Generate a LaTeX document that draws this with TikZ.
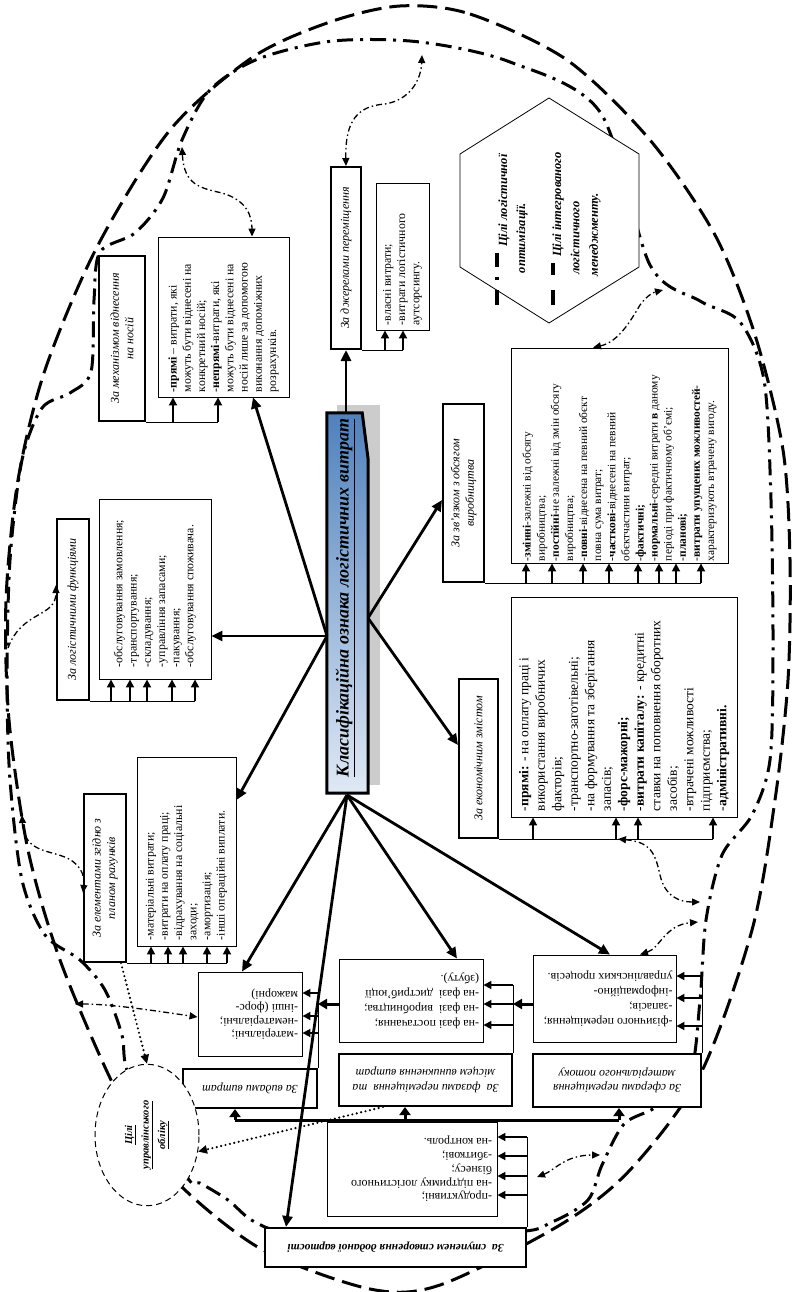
\documentclass[tikz,border=0pt]{standalone}
\usepackage{fontspec}
\setmainfont{Liberation Serif}
\usetikzlibrary{arrows.meta,calc,shapes.geometric}
\definecolor{mblue}{RGB}{79,129,189}
\definecolor{mlight}{RGB}{224,233,245}
\newcommand{\rotL}[2]{\rotatebox{90}{\parbox{#1}{\raggedright #2}}}
\newcommand{\rotC}[2]{\rotatebox{90}{\parbox{#1}{\centering #2}}}
\newcommand{\updL}[2]{\rotatebox{180}{\parbox{#1}{\raggedright #2}}}
\newcommand{\updC}[2]{\rotatebox{180}{\parbox{#1}{\centering #2}}}
\begin{document}
\begin{tikzpicture}[x=1pt,y=-1pt,
  hdr/.style={draw, line width=2pt, fill=white, inner sep=0pt, font=\fontsize{12}{14.5}\selectfont\itshape},
  lst/.style={draw, line width=0.9pt, fill=white, inner sep=0pt, font=\fontsize{11.8}{14.2}\selectfont},
  marr/.style={line width=2.8pt, -{Triangle[length=11pt,width=10pt]}},
  barr/.style={line width=1.8pt, -{Triangle[length=8pt,width=8pt]}},
  tarr/.style={line width=3pt, -{Triangle[length=9pt,width=10pt]}},
  bline/.style={line width=0.9pt},
  busline/.style={line width=3pt},
  busarr/.style={line width=3pt, -{Triangle[length=8pt,width=11pt]}},
  dd/.style={line width=1.3pt, dash pattern=on 6pt off 3pt on 1.5pt off 3pt, {Triangle[length=8pt,width=7pt]}-{Triangle[length=8pt,width=7pt]}},
  ddone/.style={line width=1.3pt, dash pattern=on 6pt off 3pt on 1.5pt off 3pt, -{Triangle[length=8pt,width=7pt]}},
  dotarr/.style={line width=2.4pt, dash pattern=on 0pt off 4.5pt, line cap=round, -{Triangle[length=9pt,width=8pt]}},
  loopD/.style={line width=3pt, dash pattern=on 16pt off 7pt on 3pt off 7pt},
  loopE/.style={line width=3pt, dash pattern=on 20pt off 8pt},
  hx/.style={inner sep=0pt, font=\fontsize{12.5}{15}\selectfont\bfseries\itshape}
]
\fill[white] (0,0) rectangle (792,1292);
\useasboundingbox (0,0) rectangle (792,1292);

% ---------- loops ----------
\draw[loopE] plot[smooth cycle, tension=0.5] coordinates {(400,6) (470,14) (567,60) (650,140) (715,235) (755,335) (783,450) (790,560) (788,680) (775,800) (752,930) (700,1075) (630,1170) (560,1225) (440,1285) (370,1289) (263,1250) (185,1190) (147,1140) (111,1080) (60,960) (28,850) (9,720) (6,600) (18,480) (45,370) (97,247) (170,130) (253,57) (330,22)};
\draw[loopD] plot[smooth cycle, tension=0.5] coordinates {(200,1183) (187,1177) (130,1078) (122,1035) (105,990) (80,960) (45,935) (22,880) (10,780) (7,680) (10,560) (22,460) (42,408) (70,393) (91,372) (94,300) (100,252) (135,233) (163,198) (182,140) (210,90) (258,59) (333,41) (420,42) (510,62) (600,112) (650,265) (700,301) (740,322) (764,380) (771,500) (773,650) (770,760) (752,815) (722,855) (706,920) (700,1000) (690,1075) (656,1107) (624,1124) (602,1165) (588,1200) (552,1222) (510,1232) (300,1232) (255,1222) (228,1200)};

% ---------- main node ----------
\node[inner sep=0pt, minimum width=41pt, minimum height=380pt] (main) at (347.5,603) {};
\fill[gray!40] ($(main.north west)+(10,-8)$) rectangle ($(main.south east)+(12,-8)$);
\path[draw=black, line width=3pt, top color=mblue, bottom color=mlight] (main.north west) -- ($(main.north east)+(-6,0)$) -- ($(main.north east)+(0,47)$) -- (main.south east) -- (main.south west) -- cycle;
\node[rotate=90, inner sep=0pt, font=\fontsize{18}{20}\selectfont\bfseries\itshape] (mainT) at (345,598) {\underline{Класифікаційна ознака логістичних витрат}};

% ---------- top-left groups ----------
\node[hdr, minimum width=46pt, minimum height=165pt] (mech) at (122,338.5) {\rotC{160pt}{За механізмом віднесення\\ на носій}};
\node[lst, minimum width=131pt, minimum height=160pt] (mechL) at (223.5,317) {\rotL{150pt}{\textbf{-прямі} – витрати, які\\ можуть бути віднесені на\\ конкретний носій;\\ -\textbf{непрямі}-витрати, які\\ можуть бути віднесені на\\ носій лише за допомогою\\ виконання допоміжних\\ розрахунків.}};

\node[hdr, minimum width=32pt, minimum height=181pt] (func) at (73,609.5) {\rotC{175pt}{За логістичними функціями}};
\node[lst, minimum width=112pt, minimum height=180pt] (funcL) at (155,589) {\rotL{156pt}{-обслуговування замовлення;\\ -транспортування;\\ -складування;\\ -управління запасами;\\ -пакування;\\ -обслуговування споживача.}};

\node[hdr, minimum width=42pt, minimum height=168pt] (elem) at (105,878) {\rotC{162pt}{За елементами згідно з\\ планом рахунків}};
\node[lst, minimum width=99pt, minimum height=189pt] (elemL) at (186.5,851.5) {\rotL{177pt}{-матеріальні витрати;\\ -витрати на оплату праці;\\ -відрахування на соціальні\\ заходи;\\ -амортизація;\\ -інші операційні виплати.}};

% ---------- top-right groups ----------
\node[hdr, minimum width=30pt, minimum height=182pt] (src) at (346,258) {\rotC{176pt}{За джерелами переміщення}};
\node[lst, minimum width=53pt, minimum height=147pt] (srcL) at (402.5,256.5) {\rotL{137pt}{-власні витрати;\\ -витрати логістичного\\ аутсорсингу.}};

\node[hdr, minimum width=41pt, minimum height=178pt] (vol) at (463.5,493) {\rotC{172pt}{За зв’язком з обсягом\\ виробництва}};
\node[lst, font=\fontsize{11.4}{14.1}\selectfont, minimum width=217pt, minimum height=215pt] (volL) at (619.5,455.5) {\rotL{211pt}{-\textbf{змінні}-залежні від обсягу\\ виробництва;\\ -\textbf{постійні}-не залежні від змін обсягу\\ виробництва;\\ -\textbf{повні}-віднесена на певний обєкт\\ повна сума витрат;\\ -\textbf{часткові}-віднесені на певний\\ обєктчастини витрат;\\ -\textbf{фактичні;}\\ -\textbf{нормальні}-середні витрати \textbf{в} даному\\ періоді при фактичному об’ємі;\\ -\textbf{планові;}\\ -\textbf{витрати упущених можливостей}-\\ характеризують втрачену вигоду.}};

\node[hdr, minimum width=39pt, minimum height=159pt] (econ) at (478.5,758.5) {\rotC{153pt}{За економічним змістом}};
\node[lst, font=\fontsize{13.5}{16.5}\selectfont, minimum width=226pt, minimum height=220pt] (econL) at (624,707) {\rotL{208pt}{-\textbf{прямі:} - на оплату праці і\\ використання виробничих\\ факторів;\\ -транспортно-заготівельні;\\ -на формування та зберігання\\ запасів;\\ -\textbf{форс-мажорні;}\\ -\textbf{витрати капіталу:} - кредитні\\ ставки на поповнення оборотних\\ засобів;\\ -втрачені можливості\\ підприємства;\\ -\textbf{адміністративні.}}};

% ---------- bottom groups ----------
\node[hdr, minimum width=134pt, minimum height=39pt] (kindH) at (250,1088.5) {\updC{128pt}{За видами витрат}};
\node[lst, font=\fontsize{12}{13.5}\selectfont, minimum width=104pt, minimum height=84pt] (matL) at (250,1014) {\updL{96pt}{-матеріальні;\\ -нематеріальні;\\ -інші (форс-\\ мажорні)}};

\node[hdr, minimum width=173pt, minimum height=52pt] (phaseH) at (425.5,1080) {\updC{169pt}{За\ \ фазами переміщення\ \ та\\ місцем виникнення витрат}};
\node[lst, font=\fontsize{12}{15}\selectfont, minimum width=144pt, minimum height=83pt] (phaseL) at (411,1000.5) {\updL{136pt}{-на фазі постачання;\\ -на фазі\ \ виробництва;\\ -на фазі\ \ дистриб’юції\\ (збуту).}};

\node[hdr, minimum width=168pt, minimum height=53pt] (sphH) at (617,1080.5) {\updC{162pt}{За сферами переміщення\\ матеріального потоку}};
\node[lst, font=\fontsize{12}{15}\selectfont, minimum width=143pt, minimum height=87pt] (sphL) at (604.5,998.5) {\updL{136pt}{-фізичного переміщення;\\ -запасів;\\ -інформаційно-\\ управлінських процесів.}};

\node[hdr, font=\fontsize{11.5}{14}\selectfont\bfseries\itshape, minimum width=261pt, minimum height=39pt] (stepH) at (395.5,1247.5) {\updC{255pt}{За\ \ ступенем створення доданої вартості}};
\node[lst, font=\fontsize{12}{13.8}\selectfont, minimum width=170pt, minimum height=94pt] (stepL) at (412,1169) {\updL{160pt}{-продуктивні;\\ -на підтримку логістичного\\ бізнесу;\\ -збиткові;\\ -на контроль.}};

% ---------- brackets ----------
\draw[bline] (mech.south east) -- (218,0 |- mech.south);
\foreach \x in {173,218} \draw[barr] (\x,0 |- mech.south) -- (\x,0 |- mechL.south);
\draw[bline] (func.south east) -- (195,0 |- func.south);
\foreach \x in {111,130,147,172,195} \draw[barr] (\x,0 |- func.south) -- (\x,0 |- funcL.south);
\draw[bline] (elem.south east) -- (227,0 |- elem.south);
\foreach \x in {151,168,183,207,227} \draw[barr] (\x,0 |- elem.south) -- (\x,0 |- elemL.south);
\draw[bline] (src.south east) -- (403,0 |- src.south);
\foreach \x in {385,403} \draw[barr] (\x,0 |- src.south) -- (\x,0 |- srcL.south);
\draw[bline] (vol.south east) -- (701,0 |- vol.south);
\foreach \x in {526,552,583,609,638,659,676,701} \draw[barr] (\x,0 |- vol.south) -- (\x,0 |- volL.south);
\draw[bline] (econ.south east) -- (713,0 |- econ.south);
\foreach \x in {533,616,638,713} \draw[barr] (\x,0 |- econ.south) -- (\x,0 |- econL.south);

\draw[bline] (kindH.north east) -- (kindH.north east |- 0,993);
\foreach \y in {993,1016,1033} \draw[barr] (kindH.east |- 0,\y) -- (matL.east |- 0,\y);
\draw[bline] (phaseH.north east) -- (phaseH.north east |- 0,985);
\foreach \y in {985,1004,1025} \draw[barr] (phaseH.east |- 0,\y) -- (phaseL.east |- 0,\y);
\draw[bline] (sphH.north east) -- (sphH.north east |- 0,976);
\foreach \y in {976,998,1026} \draw[barr] (sphH.east |- 0,\y) -- (sphL.east |- 0,\y);
\draw[bline] (stepH.north east) -- (stepH.north east |- 0,1137);
\foreach \y in {1137,1156,1176,1195} \draw[barr] (stepH.east |- 0,\y) -- (stepL.east |- 0,\y);

\draw[tarr] (phaseL.west |- 0,1004) -- (kindH.east |- 0,1004);
\draw[tarr] (sphL.west |- 0,1004) -- (phaseH.east |- 0,1004);

\coordinate (busL) at (235,1120);
\coordinate (busR) at (619,1120);
\draw[busline] (busL) -- (busR);
\draw[busarr] (busL) -- (kindH.south -| busL);
\draw[busarr] (405,0 |- busL) -- (405,0 |- phaseH.south);
\draw[busarr] (busR) -- (sphH.south -| busR);

% ---------- main arrows ----------
\coordinate (oL) at (327,636);
\coordinate (oR) at (368,618);
\coordinate (oB) at (347,795);
\draw[marr] (oL) -- (253,0 |- mechL.south);
\draw[marr] (oL) -- (funcL.east |- oL);
\draw[marr] (oL) -- (elemL.east |- 0,800);
\draw[marr] (src.south |- main.north) -- (src.south);
\draw[marr] (oR) -- (vol.west |- 0,500);
\draw[marr] (oR) -- (econ.west |- 0,745);
\draw[marr] (oB) -- (242,0 |- matL.north);
\draw[marr] (oB) -- (286,0 |- stepH.north);
\draw[marr] (oB) -- (457,0 |- phaseL.north);
\draw[marr] (oB) -- (610,0 |- sphL.north);

% ---------- hexagon ----------
\draw[line width=0.8pt, fill=white] (549,98) -- (639,154) -- (639,267) -- (549,323) -- (460,267) -- (460,154) -- cycle;
\draw[line width=4pt, dash pattern=on 15pt off 10pt on 3pt off 10pt] (497,305) -- (497,253);
\draw[line width=4pt, dash pattern=on 15pt off 15pt] (553,305) -- (553,263);
\node[hx, rotate=90, anchor=base west] (hx1) at (507,247) {Цілі логістичної};
\node[hx, rotate=90] (hx2) at (522,238) {оптимізації.};
\node[hx, rotate=90, anchor=base west] (hx3) at (561,257) {Цілі інтегрованого};
\node[hx, rotate=90] (hx4) at (575,238) {логістичного};
\node[hx, rotate=90] (hx5) at (595,235) {менеджменту.};

% ---------- circle ----------
\node[ellipse, draw, line width=1pt, dash pattern=on 6pt off 4pt, fill=white, minimum width=104pt, minimum height=120pt, inner sep=0pt, font=\fontsize{10.5}{16.5}\selectfont\bfseries\itshape] (goal) at (147,1135) {\rotC{100pt}{\underline{Цілі}\\ \underline{управлінського}\\ \underline{обліку}}};

% ---------- dash-dot link arrows ----------
\coordinate (l1) at (422,55);
\coordinate (l2) at (182,147);
\coordinate (l3) at (8,648);
\coordinate (l4) at (22,815);
\coordinate (l5) at (75,1004);
\coordinate (l6) at (698,922);
\coordinate (l7) at (700,902);
\coordinate (l8) at (600,1155);
\coordinate (l9) at (663,290);
\coordinate (s8) at (537,1177);
\draw[dd] (src.north) .. controls (345,120) and (358,106) .. (385,104) .. controls (410,100) and (421,80) .. (l1);
\draw[dd] (l2) .. controls (184,185) and (200,188) .. (222,193) .. controls (246,200) and (252,215) .. (252,0 |- mechL.north);
\draw[ddone] (l3) .. controls (22,610) and (56,618) .. (func.west |- 0,585);
\draw[dd] (l4) .. controls (24,850) and (45,850) .. (62,856) .. controls (80,862) and (85,875) .. (elem.west |- 0,893);
\draw[dd] (l5) .. controls (110,1004) and (150,1010) .. (matL.west |- 0,1017);
\draw[dd] (640,0 |- sphL.north) .. controls (660,948) and (665,925) .. (l6);
\draw[dd] (618,0 |- econ.south) .. controls (650,842) and (655,852) .. (660,875) .. controls (665,897) and (680,902) .. (l7);
\draw[dd] (s8) .. controls (555,1170) and (565,1155) .. (l8);
\draw[dd] (593,0 |- volL.north) .. controls (618,342) and (630,322) .. (640,305) .. controls (648,294) and (655,292) .. (l9);

% ---------- dotted arrows ----------
\draw[dotarr] ($(elem.south)+(16,0)$) -- (goal.north);
\draw[dotarr] (383,0 |- phaseH.south) -- (goal.-18);
\end{tikzpicture}
\end{document}
